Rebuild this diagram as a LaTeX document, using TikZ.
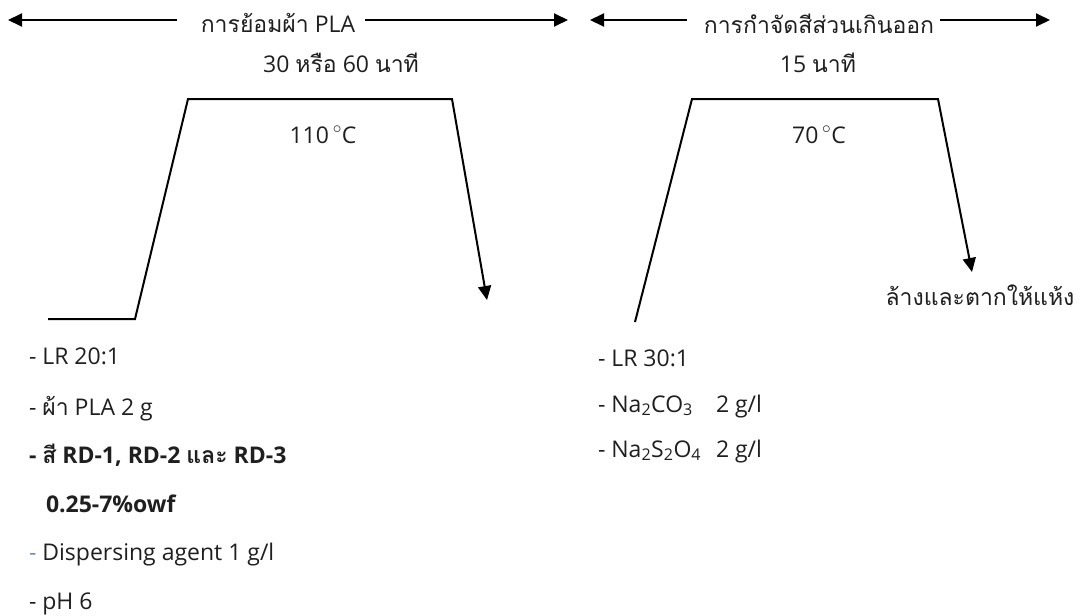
\documentclass[tikz,border=0pt]{standalone}
\usepackage{fontspec}
\setmainfont{Open Sans}
\newfontfamily\thai[Script=Thai]{Loma}
\usetikzlibrary{arrows.meta}

\begin{document}
\begin{tikzpicture}[x=1pt,y=-1pt,
  line width=2pt,
  lbl/.style={inner sep=0pt, anchor=base, text=black!88,
    font=\fontsize{23}{28}\selectfont},
  item/.style={lbl, anchor=base west},
  bolditem/.style={item, font=\fontsize{23}{28}\selectfont\bfseries},
  tipped/.style={-{Triangle[length=14pt,width=13pt]}}]
\useasboundingbox (0,0) rectangle (1080,616);

% --- stage headings with double-headed spans
\node[lbl] (dye) at (278,32) {{\thai การย้อมผ้า} PLA};
\node[lbl] (clear) at (819,33) {\thai การกำจัดสีส่วนเกินออก};
\coordinate (dyeL) at (8,20);
\coordinate (dyeLe) at (177,20);
\coordinate (dyeRs) at (365,20);
\coordinate (dyeR) at (568,20);
\coordinate (clrL) at (590,20);
\coordinate (clrLe) at (687,20);
\coordinate (clrRs) at (940,20);
\coordinate (clrR) at (1050,20);
\draw[tipped] (dyeLe) -- (dyeL);
\draw[tipped] (dyeRs) -- (dyeR);
\draw[tipped] (clrLe) -- (clrL);
\draw[tipped] (clrRs) -- (clrR);

% --- times and temperatures
\node[lbl] (t1) at (341,72) {30 {\thai หรือ} 60 {\thai นาที}};
\node[lbl] (t2) at (818,72) {15 {\thai นาที}};
\node[lbl] (T1) at (323,143) {110\,$^{\circ}$C};
\node[lbl] (T2) at (819,143) {70\,$^{\circ}$C};

% --- dyeing temperature profile
\coordinate (p0) at (48,319);
\coordinate (p1) at (135,319);
\coordinate (p2) at (188,99);
\coordinate (p3) at (452,99);
\coordinate (p4) at (487,300);
\draw[tipped] (p0) -- (p1) -- (p2) -- (p3) -- (p4);

% --- clearing temperature profile
\coordinate (q0) at (635,322);
\coordinate (q1) at (692,99);
\coordinate (q2) at (938,99);
\coordinate (q3) at (972,272);
\draw[tipped] (q0) -- (q1) -- (q2) -- (q3);

\node[lbl] (wash) at (980,305) {\thai ล้างและตากให้แห้ง};

% --- dyeing recipe
\node[item] (d1) at (28,364) {- LR 20:1};
\node[item] (d2) at (28,415) {- {\thai ผ้า} PLA 2 g};
\node[bolditem] (d3) at (28,463) {- {\thai สี} RD-1, RD-2 {\thai และ} RD-3};
\node[bolditem] (d4) at (45,512) {0.25-7\%owf};
\node[item] (d5) at (28,560) {{\color[rgb]{0.45,0.56,0.72}-} Dispersing agent 1 g/l};
\node[item] (d6) at (28,609) {- pH 6};

% --- clearing recipe
\node[item] (c1) at (597,366) {- LR 30:1};
\node[item] (c2) at (597,412) {\makebox[118pt][l]{- Na\textsubscript{2}CO\textsubscript{3}}2 g/l};
\node[item] (c3) at (597,457) {\makebox[118pt][l]{- Na\textsubscript{2}S\textsubscript{2}O\textsubscript{4}}2 g/l};
\end{tikzpicture}
\end{document}
